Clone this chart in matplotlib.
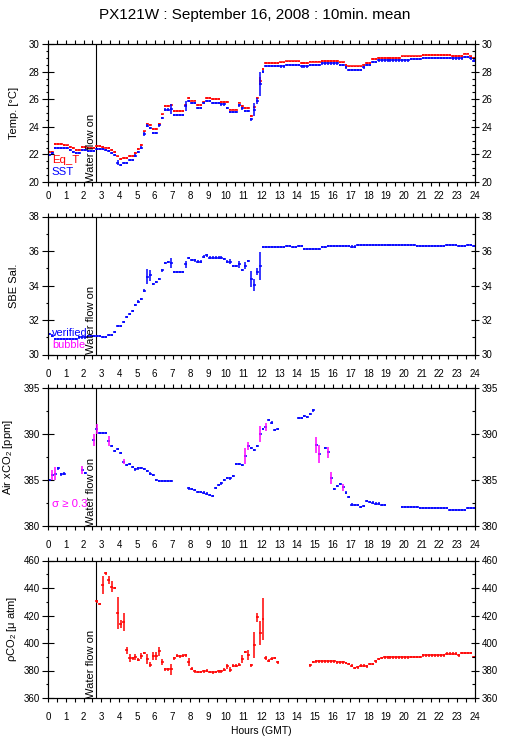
"""
PX121W underway record, 16 Sep 2008 -- 10-min means with +/- sigma crosses.
Four stacked panels: SST / Eq_T, salinity, air xCO2, seawater pCO2.
"""
import numpy as np
import matplotlib
matplotlib.use('Agg')
import matplotlib.pyplot as plt
from matplotlib.ticker import MultipleLocator

plt.rcParams['font.family'] = ['Liberation Sans', 'DejaVu Sans']
plt.rcParams['mathtext.fontset'] = 'custom'
plt.rcParams['mathtext.rm'] = 'Liberation Sans'
plt.rcParams['mathtext.it'] = 'Liberation Sans:italic'

nan = np.nan

# ===========================================================
# Data: one value per 10-min bin (6 per hour, 144 per day)
# ===========================================================
SST = [
    21.97, 22.10, 22.46, 22.46, 22.46, 22.46,   # 0h
    22.46, 22.33, 22.20, 22.10, 22.10, 22.33,   # 1h
    22.33, 22.26, 22.26, 22.26, 22.38, 22.38,   # 2h
    22.38, 22.30, 22.26, 22.10, 21.97, 21.40,   # 3h
    21.24, 21.40, 21.40, 21.60, 21.60, 21.92,   # 4h
    22.20, 22.50, 23.48, 24.09, 23.90, 23.55,   # 5h
    23.55, 24.10, 24.65, 25.25, 25.25, 25.30,   # 6h
    24.87, 24.87, 24.87, 24.87, 25.50, 25.86,   # 7h
    25.70, 25.70, 25.38, 25.38, 25.74, 25.86,   # 8h
    25.86, 25.74, 25.74, 25.74, 25.62, 25.62,   # 9h
    25.38, 25.09, 25.09, 25.09, 25.55, 25.33,   # 10h
    25.13, 25.13, 24.53, 25.25, 25.86, 27.10,   # 11h
    28.00, 28.42, 28.42, 28.42, 28.42, 28.42,   # 12h
    28.37, 28.37, 28.47, 28.47, 28.47, 28.47,   # 13h
    28.47, 28.37, 28.37, 28.37, 28.47, 28.47,   # 14h
    28.47, 28.47, 28.59, 28.59, 28.59, 28.59,   # 15h
    28.59, 28.59, 28.50, 28.50, 28.30, 28.13,   # 16h
    28.13, 28.13, 28.13, 28.13, 28.30, 28.50,   # 17h
    28.50, 28.71, 28.71, 28.81, 28.81, 28.81,   # 18h
    28.81, 28.81, 28.81, 28.81, 28.81, 28.81,   # 19h
    28.81, 28.81, 28.90, 28.90, 28.90, 28.90,   # 20h
    29.00, 29.00, 29.00, 29.00, 29.00, 29.00,   # 21h
    29.00, 29.00, 29.00, 29.00, 28.95, 28.95,   # 22h
    28.95, 28.95, 29.05, 29.05, 28.95, 28.80,   # 23h
]
EQ_T = [
    22.20, 22.20, 22.75, 22.75, 22.75, 22.70,
    22.65, 22.53, 22.45, 22.33, 22.33, 22.53,
    22.53, 22.45, 22.45, 22.45, 22.60, 22.60,
    22.55, 22.50, 22.45, 22.30, 22.17, 21.85,
    21.67, 21.73, 21.73, 21.90, 21.90, 22.10,
    22.40, 22.70, 23.67, 24.23, 24.15, 23.85,
    23.85, 24.20, 24.90, 25.50, 25.50, 25.60,
    25.13, 25.13, 25.13, 25.13, 25.60, 26.10,
    25.90, 25.90, 25.60, 25.60, 25.80, 26.10,
    26.10, 26.03, 26.03, 26.03, 25.80, 25.80,
    25.80, 25.25, 25.25, 25.25, 25.75, 25.50,
    25.38, 25.38, 24.80, 25.40, 26.10, 27.30,
    28.18, 28.60, 28.60, 28.60, 28.60, 28.60,
    28.67, 28.67, 28.74, 28.74, 28.74, 28.74,
    28.74, 28.60, 28.60, 28.60, 28.72, 28.72,
    28.72, 28.72, 28.79, 28.79, 28.79, 28.79,
    28.79, 28.79, 28.67, 28.67, 28.50, 28.37,
    28.37, 28.37, 28.37, 28.37, 28.50, 28.60,
    28.60, 28.90, 28.90, 29.00, 29.00, 29.00,
    29.00, 29.00, 29.00, 29.00, 29.00, 29.10,
    29.10, 29.10, 29.10, 29.10, 29.10, 29.10,
    29.22, 29.22, 29.22, 29.22, 29.22, 29.22,
    29.22, 29.22, 29.22, 29.22, 29.15, 29.15,
    29.15, 29.15, 29.30, 29.30, 29.10, 29.00,
]
SAL = [
    31.20, 31.10, 30.90, 30.90, 30.90, 30.90,
    30.90, 30.90, 30.90, 30.90, 30.99, 30.99,
    30.99, 31.08, 31.08, 31.08, 31.08, 31.08,
    31.00, 31.00, 31.14, 31.14, 31.30, 31.64,
    31.64, 31.87, 32.16, 32.36, 32.53, 32.88,
    33.07, 33.23, 33.70, 34.52, 34.58, 34.10,
    34.19, 34.39, 34.87, 35.30, 35.35, 35.30,
    34.77, 34.77, 34.77, 34.77, 35.24, 35.58,
    35.49, 35.45, 35.39, 35.39, 35.68, 35.74,
    35.62, 35.62, 35.62, 35.62, 35.62, 35.55,
    35.39, 35.39, 35.14, 35.14, 35.24, 34.90,
    35.14, 35.43, 34.39, 34.04, 34.81, 35.14,
    36.22, 36.22, 36.22, 36.22, 36.22, 36.22,
    36.22, 36.22, 36.28, 36.28, 36.22, 36.22,
    36.30, 36.30, 36.13, 36.13, 36.13, 36.13,
    36.13, 36.13, 36.22, 36.22, 36.30, 36.30,
    36.30, 36.30, 36.30, 36.30, 36.30, 36.30,
    36.25, 36.25, 36.34, 36.34, 36.34, 36.34,
    36.34, 36.34, 36.34, 36.34, 36.34, 36.34,
    36.34, 36.34, 36.34, 36.34, 36.34, 36.34,
    36.34, 36.34, 36.34, 36.34, 36.30, 36.30,
    36.30, 36.30, 36.30, 36.30, 36.30, 36.30,
    36.30, 36.30, 36.36, 36.36, 36.36, 36.36,
    36.30, 36.30, 36.30, 36.36, 36.36, 36.28,
]
XCO2 = [
    385.00, 385.50, 385.70, 386.26, 385.60, 385.70,
    nan, nan, nan, nan, nan, 386.10,
    385.80, nan, nan, 389.35, 390.50, 390.15,
    390.10, 390.10, 389.25, 388.70, 388.15, 388.33,
    387.97, 387.00, 386.62, 386.73, 386.44, 386.15,
    386.26, 386.33, 386.19, 385.97, 385.70, 385.53,
    384.98, 384.88, 384.88, 384.88, 384.88, 384.88,
    nan, nan, nan, nan, nan, 384.08,
    384.00, 383.90, 383.70, 383.70, 383.64, 383.53,
    383.35, 383.28, 384.15, 384.44, 384.62, 384.99,
    385.24, 385.17, 385.46, 386.73, 386.73, 386.62,
    387.64, 388.70, 388.44, 388.26, 388.70, 389.97,
    390.52, 390.74, 391.54, 391.25, 390.45, 390.56,
    nan, nan, nan, nan, nan, nan,
    391.72, 391.72, 391.98, 391.83, 392.20, 392.56,
    388.77, 387.83, nan, 388.45, 388.00, 385.17,
    384.00, 384.37, 384.55, 384.19, 383.64, 383.17,
    382.33, 382.26, 382.26, 382.07, 382.15, 382.70,
    382.62, 382.55, 382.44, 382.44, 382.26, 382.26,
    nan, nan, nan, nan, nan, 382.07,
    382.07, 382.07, 382.07, 382.07, 382.07, 381.97,
    381.97, 381.97, 381.97, 381.97, 381.97, 381.97,
    381.97, 381.97, 381.97, 381.78, 381.78, 381.78,
    381.78, 381.78, 381.78, 381.93, 381.93, 381.93,
]
PCO2 = [
    nan, nan, nan, nan, nan, nan,
    nan, nan, nan, nan, nan, nan,
    nan, nan, nan, nan, 430.2, 428.3,
    442.3, 450.8, 446.0, 441.0, 440.0, 421.7,
    413.7, 415.2, 394.6, 389.0, 389.0, 390.0,
    387.8, 390.7, 392.7, 388.3, 384.2, 390.3,
    390.3, 393.9, 386.1, 381.0, 381.0, 381.0,
    389.0, 390.7, 390.3, 390.7, 391.0, 386.0,
    381.3, 379.4, 378.9, 378.9, 379.4, 379.9,
    378.9, 378.6, 378.9, 379.4, 379.4, 380.6,
    383.0, 380.6, 383.5, 383.5, 384.2, 388.3,
    393.4, 391.5, 383.7, 398.7, 418.6, 407.2,
    417.4, 389.1, 387.1, 388.6, 389.1, 385.9,
    nan, nan, nan, nan, nan, nan,
    nan, nan, nan, nan, 383.7, 386.1,
    386.6, 386.6, 386.6, 386.6, 386.6, 386.6,
    386.6, 385.9, 385.9, 385.9, 385.4, 384.7,
    383.5, 381.8, 382.3, 383.5, 383.5, 383.0,
    384.7, 384.7, 386.6, 388.3, 389.1, 389.5,
    389.5, 389.5, 389.5, 389.5, 389.5, 389.5,
    389.5, 389.5, 389.8, 389.8, 389.8, 389.8,
    391.0, 391.0, 391.0, 391.0, 391.0, 391.0,
    391.0, 391.0, 392.2, 392.2, 392.2, 392.2,
    391.0, 392.7, 392.7, 392.7, 392.7, 389.8,
]

# standard deviations: typical value + (bin, sigma) where the bar is visibly long
SST_SIG, SST_SIG_BIG = 0.08, [(23, 0.2), (32, 0.15), (41, 0.35), (46, 0.35),
                              (69, 0.5), (70, 0.2), (71, 0.9)]
EQT_SIG, EQT_SIG_BIG = 0.06, [(71, 0.3)]
SAL_SIG, SAL_SIG_BIG = 0.07, [(33, 0.42), (34, 0.3), (41, 0.3), (46, 0.2), (61, 0.15),
                              (64, 0.2), (66, 0.2), (68, 0.45), (69, 0.35), (70, 0.2),
                              (71, 0.8)]
XCO2_SIG, XCO2_SIG_BIG = 0.12, [(1, 0.55), (2, 0.7), (11, 0.4), (15, 0.7), (16, 0.55),
                                (20, 0.5), (25, 0.3), (66, 0.85), (67, 0.4), (71, 0.85),
                                (73, 0.45), (90, 0.85), (91, 1.0), (94, 0.6), (95, 0.65),
                                (99, 0.4)]
PCO2_SIG, PCO2_SIG_BIG = 1.0, [(18, 6.3), (20, 3), (21, 4), (23, 11.5), (24, 3), (25, 6.5),
                               (26, 2.3), (27, 3), (29, 2), (31, 2), (33, 3.5), (34, 2),
                               (35, 3), (36, 3), (37, 3), (38, 2), (41, 4), (47, 3),
                               (60, 2), (61, 2), (65, 3), (67, 3.5), (69, 9.5), (70, 3),
                               (71, 9), (72, 15.5), (73, 1.5)]

FLOW_ON = 2.67          # h, seawater flow switched on
BUBBLE_SIGMA = 0.3      # xCO2 sigma threshold flagged as bubble

HOURS = (np.arange(144) + 0.5) / 6.0
HALF = 1.0 / 12.0
LW = 1.1

FIG_W, FIG_H = 509, 739


def sigma(default, big):
    s = np.full(144, default)
    for i, v in big:
        s[i] = v
    return s


def crosses(ax, y, sig, hcolor, vcolor=None):
    y = np.asarray(y, dtype=float)
    m = ~np.isnan(y)
    if vcolor is None:
        vcolor = hcolor
    vc = np.asarray(vcolor, dtype=object) if not isinstance(vcolor, str) else None
    ax.hlines(y[m], HOURS[m] - HALF, HOURS[m] + HALF, colors=hcolor, lw=LW)
    ax.vlines(HOURS[m], y[m] - sig[m], y[m] + sig[m],
              colors=list(vc[m]) if vc is not None else vcolor, lw=LW)


def setup(ax, ylim, major, minor, ylabel, label_x, xpad):
    ax.set_xlim(0, 24)
    ax.set_ylim(*ylim)
    for s in ax.spines.values():
        s.set_linewidth(0.8)
    ax.xaxis.set_major_locator(MultipleLocator(1))
    ax.xaxis.set_minor_locator(MultipleLocator(0.5))
    ax.tick_params(axis='x', which='both', direction='out', length=3.2, width=0.8,
                   top=True, bottom=True, labelsize=7, pad=xpad)
    ax.yaxis.set_major_locator(MultipleLocator(major))
    ax.yaxis.set_minor_locator(MultipleLocator(minor))
    ax.tick_params(axis='y', which='major', direction='inout', length=9, width=0.8,
                   labelsize=7, pad=1.5, right=False)
    ax.tick_params(axis='y', which='minor', direction='out', length=1.8, width=0.8,
                   right=False)

    rx = ax.twinx()
    rx.set_ylim(*ylim)
    rx.yaxis.set_major_locator(MultipleLocator(major))
    rx.yaxis.set_minor_locator(MultipleLocator(minor))
    rx.tick_params(axis='y', which='major', direction='inout', length=5.5, width=0.8,
                   labelsize=7, pad=2)
    rx.tick_params(axis='y', which='minor', direction='in', length=2.4, width=0.8)

    ax.axvline(FLOW_ON, color='k', lw=0.8)
    ax.text(FLOW_ON, ylim[0], 'Water flow on', rotation=90, ha='right', va='bottom',
            fontsize=8)
    ax.text(label_x, 0.5, ylabel, transform=ax.transAxes, rotation=90,
            ha='center', va='center', fontsize=8)


def main():
    fig = plt.figure(figsize=(FIG_W / 100, FIG_H / 100), dpi=100)

    def axes_at(top, bottom):
        return fig.add_axes([48 / FIG_W, 1 - bottom / FIG_H,
                             427 / FIG_W, (bottom - top) / FIG_H])

    # ---- 1. temperatures ----
    ax = axes_at(44, 182)
    setup(ax, (20, 30), 2, 0.5, 'Temp. [°C]', -0.0785, 3.5)
    crosses(ax, EQ_T, sigma(EQT_SIG, EQT_SIG_BIG), 'red')
    crosses(ax, SST, sigma(SST_SIG, SST_SIG_BIG), 'blue')
    ax.text(0.009, 0.16, 'Eq_T', color='red', transform=ax.transAxes,
            ha='left', va='center', fontsize=8.2)
    ax.text(0.009, 0.073, 'SST', color='blue', transform=ax.transAxes,
            ha='left', va='center', fontsize=8.2)

    # ---- 2. salinity ----
    ax = axes_at(216.5, 354.5)
    setup(ax, (30, 38), 2, 1, 'SBE Sal.', -0.0785, 7)
    crosses(ax, SAL, sigma(SAL_SIG, SAL_SIG_BIG), 'blue')
    ax.text(0.009, 0.156, 'verified', color='blue', transform=ax.transAxes,
            ha='left', va='center', fontsize=7.8)
    ax.text(0.009, 0.069, 'bubble', color='magenta', transform=ax.transAxes,
            ha='left', va='center', fontsize=7.8)

    # ---- 3. atmospheric xCO2 ----
    ax = axes_at(388, 526)
    setup(ax, (380, 395), 5, 2.5, 'Air xCO$_2$ [ppm]', -0.094, 7)
    s = sigma(XCO2_SIG, XCO2_SIG_BIG)
    vcol = np.where(s >= BUBBLE_SIGMA, 'magenta', 'blue')
    crosses(ax, XCO2, s, 'blue', vcol)
    ax.text(0.009, 0.16, 'σ ≥ 0.3', color='magenta', transform=ax.transAxes,
            ha='left', va='center', fontsize=8.2)

    # ---- 4. seawater pCO2 ----
    ax = axes_at(560.5, 698)
    setup(ax, (360, 460), 20, 10, 'ρCO$_2$ [μ atm]', -0.085, 7)
    crosses(ax, PCO2, sigma(PCO2_SIG, PCO2_SIG_BIG), 'red')

    fig.text(0.5, 1 - 15 / FIG_H, 'PX121W : September 16, 2008 : 10min. mean',
             ha='center', va='center', fontsize=11)
    fig.text(261.5 / FIG_W, 1 - 731 / FIG_H, 'Hours (GMT)',
             ha='center', va='center', fontsize=7.5)

    fig.savefig('out.png', dpi=100)
    plt.close(fig)


if __name__ == '__main__':
    main()
